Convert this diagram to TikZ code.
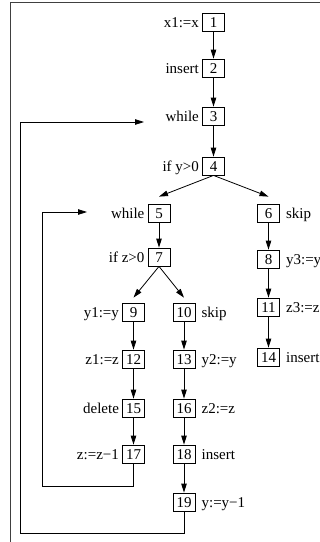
\documentclass[tikz,border=0pt]{standalone}
\usepackage{fontspec}
\setmainfont{Liberation Serif}
\usetikzlibrary{arrows.meta,calc}
\begin{document}
\begin{tikzpicture}[x=1pt,y=-1pt,
  font=\fontsize{15}{15}\selectfont,
  box/.style={draw,line width=0.8pt,minimum width=22pt,minimum height=18pt,inner sep=0pt,text height=10pt,text depth=0pt},
  lab/.style={inner sep=0pt,text height=10pt,text depth=0pt},
  L/.style={label={[lab,label distance=3pt]left:#1}},
  R/.style={label={[lab,label distance=6pt]right:#1}},
  arr/.style={line width=0.8pt,-{Triangle[length=9pt,width=5.5pt]}}]
\useasboundingbox (0,0) rectangle (320,542);
\draw[line width=1.2pt,black!75] (10.5,542) -- (10.5,2.5) -- (320,2.5);
\node[box,L={x1:=x}] (n1) at (213.5,22) {1};
\node[box,L={insert}] (n2) at (213.5,68) {2};
\node[box,L={while}] (n3) at (213.5,116) {3};
\node[box,L={if y>0}] (n4) at (213.5,166) {4};
\node[box,L={while}] (n5) at (159,213) {5};
\node[box,R={skip}] (n6) at (268.5,213) {6};
\node[box,L={if z>0}] (n7) at (159,257) {7};
\node[box,R={y3:=y}] (n8) at (268.5,259) {8};
\node[box,L={y1:=y}] (n9) at (133.5,312) {9};
\node[box,R={skip}] (n10) at (184,312) {10};
\node[box,R={z3:=z}] (n11) at (268.5,307) {11};
\node[box,L={z1:=z}] (n12) at (133.5,359) {12};
\node[box,R={y2:=y}] (n13) at (184,359) {13};
\node[box,R={insert}] (n14) at (268.5,357) {14};
\node[box,L={delete}] (n15) at (133.5,408) {15};
\node[box,R={z2:=z}] (n16) at (184,408) {16};
\node[box,L={z:=z\textminus 1}] (n17) at (133.5,454) {17};
\node[box,R={insert}] (n18) at (184,454) {18};
\node[box,R={y:=y\textminus 1}] (n19) at (184,502) {19};
\coordinate (o1) at (144,122);
\coordinate (i1) at (87,212);
\draw[arr] (n1) -- (n2);
\draw[arr] (n2) -- (n3);
\draw[arr] (n3) -- (n4);
\draw[arr] (n4.south) -- ([yshift=7pt]n5.north);
\draw[arr] (n4.south) -- ([yshift=7pt]n6.north);
\draw[arr] (n5) -- (n7);
\draw[arr] (n6) -- (n8);
\draw[arr] (n7.south) -- ([yshift=5pt]n9.north);
\draw[arr] (n7.south) -- ([yshift=5pt]n10.north);
\draw[arr] (n8) -- (n11);
\draw[arr] (n11) -- (n14);
\draw[arr] (n9) -- (n12);
\draw[arr] (n12) -- (n15);
\draw[arr] (n15) -- (n17);
\draw[arr] (n10) -- (n13);
\draw[arr] (n13) -- (n16);
\draw[arr] (n16) -- (n18);
\draw[arr] (n18) -- (n19);
\draw[arr] (n17.south) |- (42,486) |- (i1);
\draw[arr] (n19.south) |- (20,533) |- (o1);
\end{tikzpicture}
\end{document}
